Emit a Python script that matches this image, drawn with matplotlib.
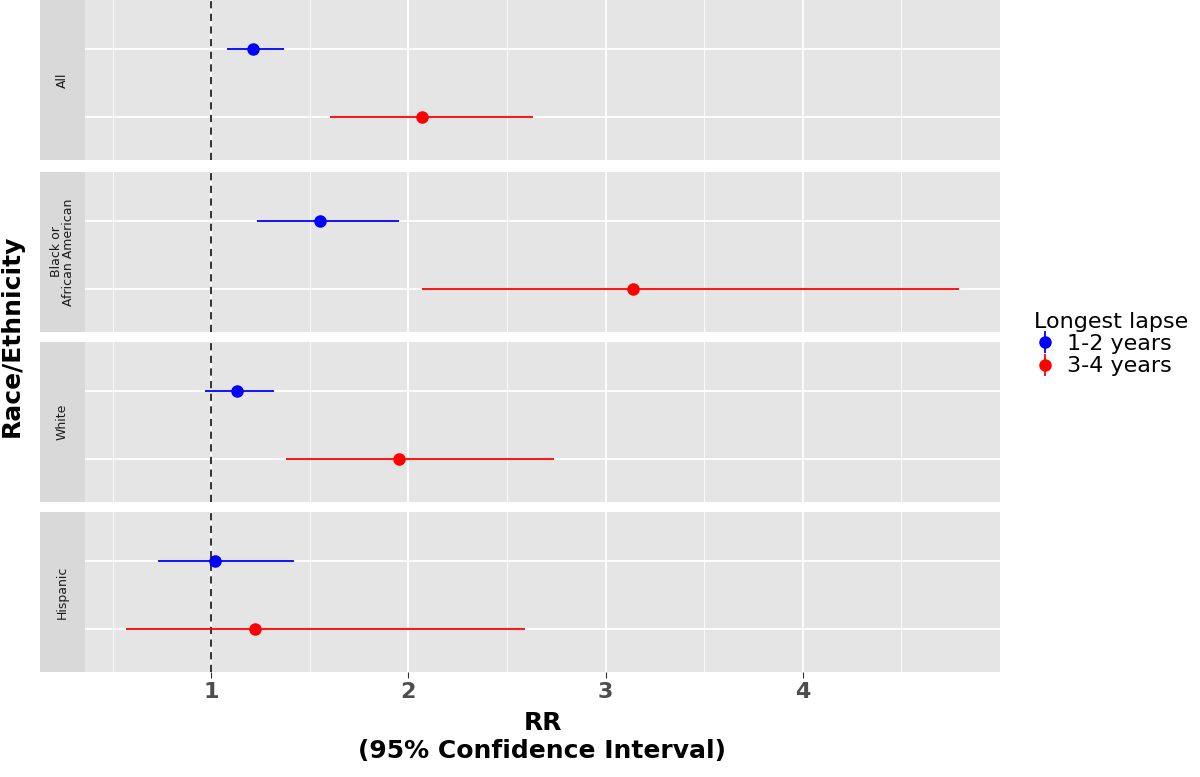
import matplotlib.pyplot as plt
from matplotlib.lines import Line2D

GROUPS = ["All", "Black or\nAfrican American", "White", "Hispanic"]
BLUE_RR = [1.21, 1.55, 1.13, 1.02]
BLUE_LO = [1.08, 1.23, 0.97, 0.73]
BLUE_HI = [1.37, 1.95, 1.32, 1.42]
RED_RR = [2.07, 3.14, 1.95, 1.22]
RED_LO = [1.60, 2.07, 1.38, 0.57]
RED_HI = [2.63, 4.79, 2.74, 2.59]

W, H = 1200, 777
fig = plt.figure(figsize=(12, 7.77), dpi=100)
fig.patch.set_facecolor("white")

tops = [0, 172, 342, 512]
ph = 160
x0, x1 = 85, 1000
for i, g in enumerate(GROUPS):
    t = tops[i]
    ax = fig.add_axes([x0 / W, 1 - (t + ph) / H, (x1 - x0) / W, ph / H])
    ax.set_facecolor("#e5e5e5")
    ax.set_xlim(0.36, 5.0)
    ax.set_ylim(0.37, 2.72)
    for v in [0.5, 1.5, 2.5, 3.5, 4.5]:
        ax.axvline(v, color="white", lw=0.6, zorder=0)
    for v in [1, 2, 3, 4]:
        ax.axvline(v, color="white", lw=1.3, zorder=0)
    for v in [1, 2]:
        ax.axhline(v, color="white", lw=1.3, zorder=0)
    ax.axvline(1, color="#222222", lw=1.3, ls=(0, (4, 3)), zorder=1)
    ax.hlines(2, BLUE_LO[i], BLUE_HI[i], color="#0000ff", lw=1.3, zorder=2)
    ax.plot(BLUE_RR[i], 2, "o", color="#0000ff", ms=8, zorder=3)
    ax.hlines(1, RED_LO[i], RED_HI[i], color="#ff0000", lw=1.3, zorder=2)
    ax.plot(RED_RR[i], 1, "o", color="#ff0000", ms=8, zorder=3)
    for s in ax.spines.values():
        s.set_visible(False)
    ax.set_yticks([])
    ax.set_xticks([1, 2, 3, 4])
    if i < 3:
        ax.tick_params(axis="x", length=0, labelbottom=False)
    else:
        ax.set_xticklabels(["1", "2", "3", "4"], fontsize=16, fontweight="bold", color="#4d4d4d")
        ax.tick_params(axis="x", length=4, color="#333333")
        ax.set_xlabel("RR\n(95% Confidence Interval)", fontsize=18, fontweight="bold", labelpad=6)
    sax = fig.add_axes([40 / W, 1 - (t + ph) / H, 45 / W, ph / H])
    sax.set_facecolor("#d9d9d9")
    sax.set_xticks([]); sax.set_yticks([])
    for s in sax.spines.values():
        s.set_visible(False)
    sax.text(0.5, 0.5, g, rotation=90, ha="center", va="center", fontsize=9,
             color="#1a1a1a", transform=sax.transAxes, linespacing=1.0)

fig.text(12 / W, 1 - 336 / H, "Race/Ethnicity", rotation=90, ha="center", va="center",
         fontsize=18, fontweight="bold")

handles = [(Line2D([], [], color="#0000ff", marker="|", ms=16, mew=1.3, lw=0),
            Line2D([], [], color="#0000ff", marker="o", ms=8, lw=0)),
           (Line2D([], [], color="#ff0000", marker="|", ms=16, mew=1.3, lw=0),
            Line2D([], [], color="#ff0000", marker="o", ms=8, lw=0))]
leg = fig.legend(handles, ["1-2 years", "3-4 years"], title="Longest lapse",
                 loc="upper left", bbox_to_anchor=(1014 / W, 1 - 292 / H),
                 frameon=False, fontsize=16, title_fontsize=16,
                 handlelength=1.0, handletextpad=0.5, labelspacing=0.1)
leg._legend_box.align = "left"

fig.savefig("out.png", dpi=100, facecolor="white")
